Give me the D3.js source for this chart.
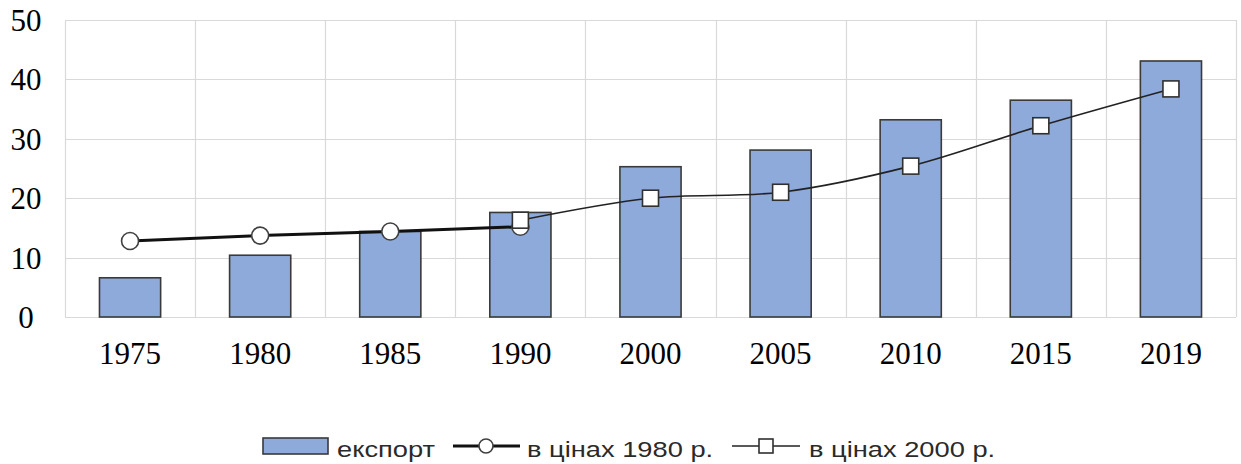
<!DOCTYPE html>
<html>
<head>
<meta charset="utf-8">
<script src="https://cdn.jsdelivr.net/npm/d3@7"></script>
<style>
  body { margin: 0; background: #fff; }
  svg { display: block; }
</style>
</head>
<body>
<svg width="1241" height="464"></svg>
<script>
// years on the x axis
var years = ['1975', '1980', '1985', '1990', '2000', '2005', '2010', '2015', '2019'];
// bars: export
var exportValues = [6.6, 10.4, 14.4, 17.6, 25.3, 28.1, 33.2, 36.5, 43.1];
// line with circles: in 1980 prices (1975-1990 only)
var prices1980Years = ['1975', '1980', '1985', '1990'];
var prices1980 = [12.8, 13.7, 14.4, 15.2];
// line with squares: in 2000 prices (1990-2019)
var prices2000Years = ['1990', '2000', '2005', '2010', '2015', '2019'];
var prices2000 = [16.3, 20.0, 21.0, 25.4, 32.2, 38.4];
var yTicks = [0, 10, 20, 30, 40, 50];

var svg = d3.select('svg');

//plot area edges
var plot = {l: 65, r: 1236, t: 20, b: 317};

var x = d3.scaleBand()
    .domain(years)
    .range([plot.l, plot.r])
    .paddingInner(0.53)
    .paddingOuter(0.265);

var y = d3.scaleLinear()
    .domain([0, 50])
    .range([plot.b, plot.t]);

var step = (plot.r - plot.l) / years.length;

//grid lines
var grid = svg.append('g').attr('class', 'grid');
grid.selectAll('line.h')
    .data(yTicks)
    .enter()
    .append('line')
    .attr('x1', plot.l).attr('x2', plot.r)
    .attr('y1', function(d) { return Math.round(y(d)) + 0.5; })
    .attr('y2', function(d) { return Math.round(y(d)) + 0.5; })
    .style('stroke', '#d9d9d9')
    .style('stroke-width', 1.2);

grid.selectAll('line.v')
    .data(d3.range(years.length + 1))
    .enter()
    .append('line')
    .attr('x1', function(i) { return Math.round(plot.l + i * step) + 0.5; })
    .attr('x2', function(i) { return Math.round(plot.l + i * step) + 0.5; })
    .attr('y1', plot.t).attr('y2', plot.b)
    .style('stroke', '#d9d9d9')
    .style('stroke-width', 1.2);

var serif = '"Liberation Serif", "Times New Roman", serif';

//y axis labels
svg.append('g')
    .selectAll('text')
    .data(yTicks)
    .enter()
    .append('text')
    .attr('x', 26)
    .attr('y', function(d) { return y(d) + 11; })
    .attr('text-anchor', 'middle')
    .style('font-family', serif)
    .style('font-size', '31px')
    .style('fill', '#000')
    .text(function(d) { return d; });

//x axis labels
svg.append('g')
    .selectAll('text')
    .data(years)
    .enter()
    .append('text')
    .attr('x', function(d) { return x(d) + x.bandwidth() / 2; })
    .attr('y', 364)
    .attr('text-anchor', 'middle')
    .style('font-family', serif)
    .style('font-size', '31px')
    .style('fill', '#000')
    .text(function(d) { return d; });

//bars
svg.append('g')
    .selectAll('rect')
    .data(years)
    .enter()
    .append('rect')
    .attr('x', function(d) { return x(d); })
    .attr('y', function(d, i) { return y(exportValues[i]); })
    .attr('width', x.bandwidth())
    .attr('height', function(d, i) { return y(0) - y(exportValues[i]); })
    .style('fill', '#8eaadb')
    .style('stroke', '#3a3a3a')
    .style('stroke-width', 1.6);

var cx = function(d) { return x(d) + x.bandwidth() / 2; };

//line in 1980 prices
var line1980 = d3.line()
    .x(function(d) { return cx(d); })
    .y(function(d, i) { return y(prices1980[i]); });

svg.append('path')
    .datum(prices1980Years)
    .attr('d', line1980)
    .style('fill', 'none')
    .style('stroke', '#111')
    .style('stroke-width', 3);

svg.append('g')
    .selectAll('circle')
    .data(prices1980Years)
    .enter()
    .append('circle')
    .attr('cx', cx)
    .attr('cy', function(d, i) { return y(prices1980[i]); })
    .attr('r', 8.5)
    .style('fill', '#fff')
    .style('stroke', '#404040')
    .style('stroke-width', 1.6);

//line in 2000 prices (smoothed)
var line2000 = d3.line()
    .x(function(d) { return cx(d); })
    .y(function(d, i) { return y(prices2000[i]); })
    .curve(d3.curveCatmullRom.alpha(0.5));

svg.append('path')
    .datum(prices2000Years)
    .attr('d', line2000)
    .style('fill', 'none')
    .style('stroke', '#222')
    .style('stroke-width', 1.6);

var sq = 16;
svg.append('g')
    .selectAll('rect')
    .data(prices2000Years)
    .enter()
    .append('rect')
    .attr('x', function(d) { return cx(d) - sq / 2; })
    .attr('y', function(d, i) { return y(prices2000[i]) - sq / 2; })
    .attr('width', sq)
    .attr('height', sq)
    .style('fill', '#fff')
    .style('stroke', '#303030')
    .style('stroke-width', 1.6);

//legend
var legend = svg.append('g').attr('class', 'legend');
var legendFont = '"Liberation Sans", Arial, sans-serif';
var ly = 446;

//legend label, stretched a little sideways like the original
function legendText(lx, label) {
    legend.append('text')
        .attr('transform', 'translate(' + [lx, 457] + ') scale(1.24,1)')
        .style('font-family', legendFont)
        .style('font-size', '22px')
        .style('fill', '#2a2a2a')
        .text(label);
}

legend.append('rect')
    .attr('x', 263).attr('y', 438)
    .attr('width', 65).attr('height', 16)
    .style('fill', '#8eaadb')
    .style('stroke', '#3a3a3a')
    .style('stroke-width', 1.6);

legendText(337, 'експорт');

legend.append('line')
    .attr('x1', 453).attr('x2', 520)
    .attr('y1', ly).attr('y2', ly)
    .style('stroke', '#111')
    .style('stroke-width', 3);

legend.append('circle')
    .attr('cx', 486).attr('cy', ly).attr('r', 7)
    .style('fill', '#fff')
    .style('stroke', '#404040')
    .style('stroke-width', 1.6);

legendText(527, 'в цінах 1980 р.');

legend.append('line')
    .attr('x1', 732).attr('x2', 800)
    .attr('y1', ly).attr('y2', ly)
    .style('stroke', '#222')
    .style('stroke-width', 1.6);

legend.append('rect')
    .attr('x', 759).attr('y', ly - 7)
    .attr('width', 14).attr('height', 14)
    .style('fill', '#fff')
    .style('stroke', '#303030')
    .style('stroke-width', 1.6);

legendText(809, 'в цінах 2000 р.');
</script>
</body>
</html>
